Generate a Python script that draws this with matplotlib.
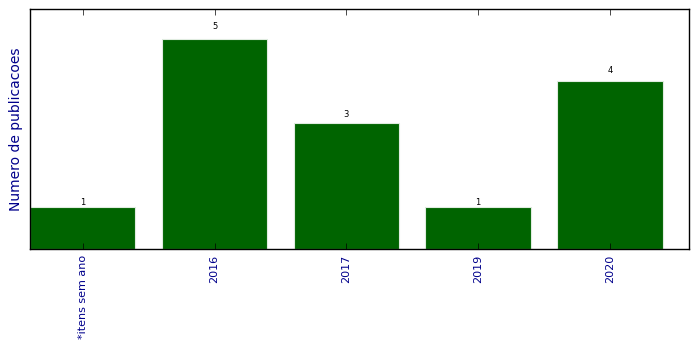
import matplotlib
matplotlib.use("Agg")
import matplotlib.pyplot as plt

# publications per year
categories = ["*itens sem ano", "2016", "2017", "2019", "2020"]
counts = [1, 5, 3, 1, 4]

plt.style.use("classic")

fig = plt.figure(figsize=(6.99, 3.49), dpi=100)
ax = fig.add_axes([0.0429, 0.2865, 0.9428, 0.6875])

x = range(len(categories))
bars = ax.bar(x, counts, width=0.8, align="center", color="#006400",
              edgecolor="#e0ece0", linewidth=0.8)

for rect in bars:
    h = rect.get_height()
    ax.text(rect.get_x() + rect.get_width() / 2, 1.05 * h, "%d" % int(h),
            ha="center", va="baseline", fontsize=6)

ax.set_xlim(-0.4, len(categories) - 0.4)
ax.set_ylim(0, 5.72)
ax.set_xticks(list(x))
ax.set_xticklabels(categories, rotation=90, fontsize=8, color="darkblue")
ax.set_yticks([])
ax.set_ylabel("Numero de publicacoes", fontsize=10, color="darkblue")

fig.savefig("out.png", dpi=100)
